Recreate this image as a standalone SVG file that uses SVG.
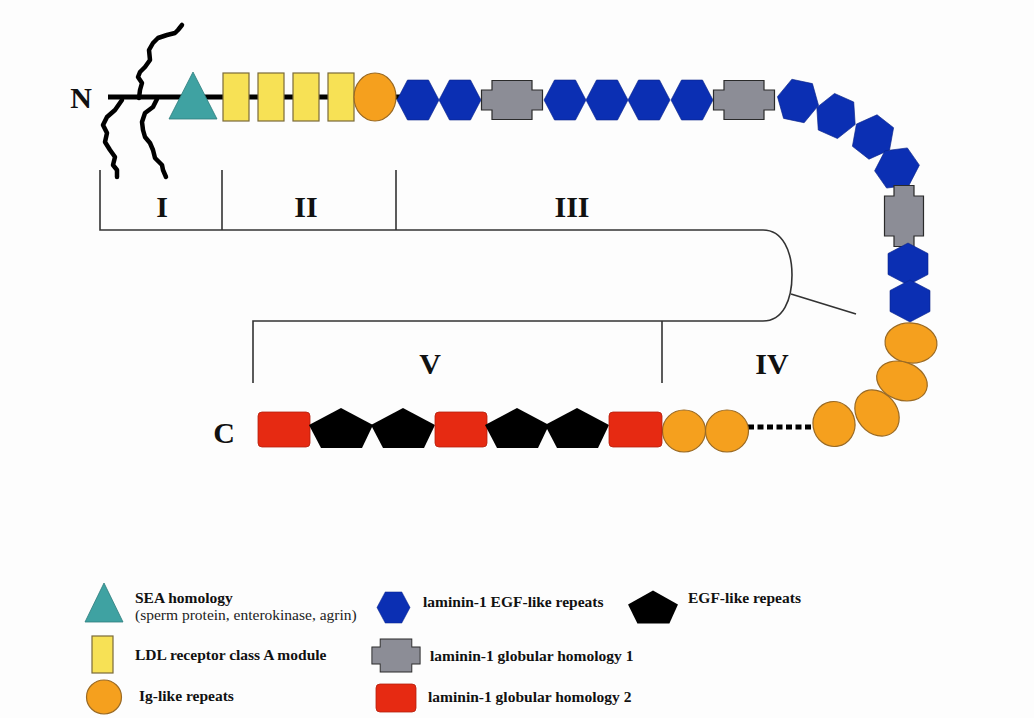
<svg xmlns="http://www.w3.org/2000/svg" xmlns:xlink="http://www.w3.org/1999/xlink" width="1034" height="718" viewBox="0 0 1034 718">
<style>
.big{font-family:"Liberation Serif","Times New Roman",serif;font-weight:bold;font-size:30px;fill:#111}
.leg{font-family:"Liberation Serif","Times New Roman",serif;font-weight:bold;font-size:15.5px;fill:#111}
.legn{font-family:"Liberation Serif","Times New Roman",serif;font-size:15.5px;fill:#222}
.br{fill:none;stroke:#333;stroke-width:1.6}
.wave{fill:none;stroke:#000;stroke-width:4.5;stroke-linejoin:round;stroke-linecap:round}
.blue{fill:#0b2fb3;stroke:#0a248a;stroke-width:0.6}
.gray{fill:#8c8d96;stroke:#2a2a2a;stroke-width:1.2}
.org{fill:#f5a01e;stroke:#9a6a24;stroke-width:1.2}
.yel{fill:#f7e155;stroke:#7a6a3a;stroke-width:1.2}
.teal{fill:#3fa2a2;stroke:#2d7c7c;stroke-width:0.8}
.red{fill:#e62a12;stroke:#b4200c;stroke-width:0.8}
.pent{fill:#000}
</style>
<defs>
<polygon id="hex" points="-21,0 -10.5,-20 10.5,-20 21,0 10.5,20 -10.5,20"/>
<polygon id="cross" points="-20,-19.5 20,-19.5 20,-10 30.5,-10 30.5,10 20,10 20,19.5 -20,19.5 -20,10 -30.5,10 -30.5,-10 -20,-10"/>
<polygon id="pent" points="0,-20 32,-3 21,20 -20,20 -32,-3"/>
</defs>
<rect x="0" y="0" width="1034" height="718" fill="#fdfdfd"/>

<g id="connectors">
<line x1="108" y1="97" x2="400" y2="97" stroke="#000" stroke-width="5"/>
<polyline class="wave" points="182,25 178,30 175,33 167,35 158,38 153,43 149,50 150,60 145,67 140,72 138,77 142,83 140,90 139,98"/>
<polyline class="wave" points="122,100 115,110 107,117 103,125 107,133 105,142 110,150 115,157 113,165 117,170 117,177"/>
<polyline class="wave" points="157,99 153,107 145,113 142,122 143,130 145,137 150,143 153,150 155,158 162,165 163,170 166,177"/>
<line x1="748" y1="427" x2="812" y2="427" stroke="#000" stroke-width="5" stroke-dasharray="6,3.5"/>
</g>

<g id="brackets">
<path class="br" d="M100,170 V230 H763 C783,230 792,252 792,275 C792,300 783,321 763,321 H253 V383"/>
<line class="br" x1="222" y1="170" x2="222" y2="230"/>
<line class="br" x1="396" y1="170" x2="396" y2="230"/>
<line class="br" x1="662" y1="321" x2="662" y2="383"/>
<line class="br" x1="791" y1="294" x2="856" y2="314"/>
</g>

<g id="labels">
<text class="big" x="81" y="108" text-anchor="middle">N</text>
<text class="big" x="224" y="443" text-anchor="middle">C</text>
<text class="big" x="162" y="217" text-anchor="middle">I</text>
<text class="big" x="306" y="217" text-anchor="middle">II</text>
<text class="big" x="572" y="217" text-anchor="middle">III</text>
<text class="big" x="430" y="374" text-anchor="middle">V</text>
<text class="big" x="772" y="374" text-anchor="middle">IV</text>
</g>

<g id="sea"><polygon class="teal" points="193,72 217,119 169,119"/></g>
<g id="ldl1"><rect class="yel" x="223" y="73" width="26" height="48"/></g>
<g id="ldl2"><rect class="yel" x="258" y="73" width="26" height="48"/></g>
<g id="ldl3"><rect class="yel" x="293" y="73" width="26" height="48"/></g>
<g id="ldl4"><rect class="yel" x="328" y="73" width="26" height="48"/></g>
<g id="ig0"><ellipse class="org" cx="375" cy="97" rx="21" ry="24"/></g>

<g id="egf1"><use href="#hex" class="blue" transform="translate(418,100)"/></g>
<g id="egf2"><use href="#hex" class="blue" transform="translate(460,100)"/></g>
<g id="lg1a"><use href="#cross" class="gray" transform="translate(512,100)"/></g>
<g id="egf3"><use href="#hex" class="blue" transform="translate(565,100)"/></g>
<g id="egf4"><use href="#hex" class="blue" transform="translate(607,100)"/></g>
<g id="egf5"><use href="#hex" class="blue" transform="translate(649,100)"/></g>
<g id="egf6"><use href="#hex" class="blue" transform="translate(692,100)"/></g>
<g id="lg1b"><use href="#cross" class="gray" transform="translate(744,100)"/></g>
<g id="egf7"><use href="#hex" class="blue" transform="translate(798,101) rotate(12)"/></g>
<g id="egf8"><use href="#hex" class="blue" transform="translate(836,116) rotate(24)"/></g>
<g id="egf9"><use href="#hex" class="blue" transform="translate(873,137) rotate(38)"/></g>
<g id="egf10"><use href="#hex" class="blue" transform="translate(897,168) rotate(55)"/></g>
<g id="lg1c"><use href="#cross" class="gray" transform="translate(904,216) rotate(90)"/></g>
<g id="egf11"><use href="#hex" class="blue" transform="translate(908,264) rotate(90)"/></g>
<g id="egf12"><use href="#hex" class="blue" transform="translate(910,301) rotate(90)"/></g>

<g id="ig1"><ellipse class="org" cx="0" cy="0" rx="20" ry="26" transform="translate(911,343) rotate(95)"/></g>
<g id="ig2"><ellipse class="org" cx="0" cy="0" rx="19" ry="26" transform="translate(902,381) rotate(110)"/></g>
<g id="ig3"><ellipse class="org" cx="0" cy="0" rx="20" ry="25" transform="translate(877,413) rotate(140)"/></g>
<g id="ig4"><ellipse class="org" cx="0" cy="0" rx="21" ry="22.5" transform="translate(834,424) rotate(170)"/></g>
<g id="ig5"><ellipse class="org" cx="727" cy="431" rx="21.5" ry="21"/></g>
<g id="ig6"><ellipse class="org" cx="684" cy="431" rx="21.5" ry="21"/></g>

<g id="lg2a"><rect class="red" x="258" y="412" width="52" height="35" rx="4"/></g>
<g id="egfp1"><use href="#pent" class="pent" transform="translate(341,428)"/></g>
<g id="egfp2"><use href="#pent" class="pent" transform="translate(403,428)"/></g>
<g id="lg2b"><rect class="red" x="435" y="412" width="52" height="35" rx="4"/></g>
<g id="egfp3"><use href="#pent" class="pent" transform="translate(517,428)"/></g>
<g id="egfp4"><use href="#pent" class="pent" transform="translate(577,428)"/></g>
<g id="lg2c"><rect class="red" x="609" y="412" width="53" height="35" rx="4"/></g>

<g id="legend">
<polygon class="teal" points="104,583 123,622 85,622"/>
<text class="leg" x="135" y="603">SEA homology</text>
<text class="legn" x="135" y="620">(sperm protein, enterokinase, agrin)</text>
<rect class="yel" x="92" y="636" width="21" height="37"/>
<text class="leg" x="135" y="660">LDL receptor class A module</text>
<ellipse class="org" cx="104" cy="697" rx="17.5" ry="17"/>
<text class="leg" x="139" y="701">Ig-like repeats</text>
<use href="#hex" class="blue" transform="translate(393.5,607.5) scale(0.79,0.78)"/>
<text class="leg" x="423" y="607">laminin-1 EGF-like repeats</text>
<use href="#pent" class="pent" transform="translate(653,607) scale(0.78,0.83)"/>
<text class="leg" x="688" y="603">EGF-like repeats</text>
<use href="#cross" class="gray" transform="translate(396,655.5) scale(0.79,0.85)"/>
<text class="leg" x="430" y="661">laminin-1 globular homology 1</text>
<rect class="red" x="376" y="684" width="40" height="28" rx="4"/>
<text class="leg" x="428" y="702">laminin-1 globular homology 2</text>
</g>
</svg>
